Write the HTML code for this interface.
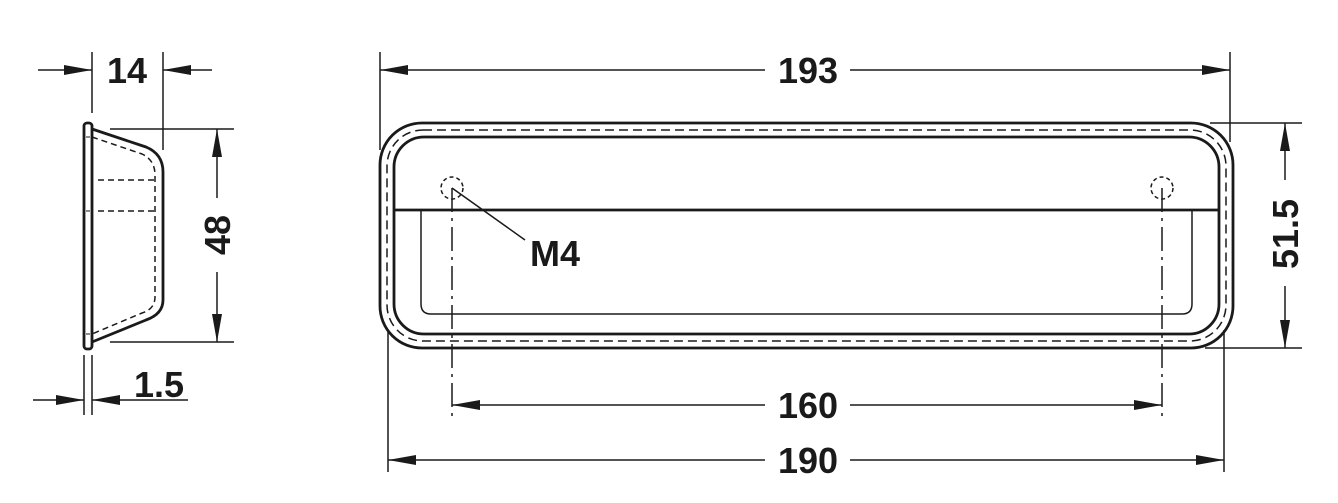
<!DOCTYPE html>
<html><head><style>
html,body{margin:0;padding:0;background:#fff;}
svg{display:block;}
text{font-family:"Liberation Sans",Arial,sans-serif;font-weight:bold;font-size:36px;fill:#1a1a1a;}
</style></head><body>
<svg width="1338" height="503" viewBox="0 0 1338 503" xmlns="http://www.w3.org/2000/svg">
<defs>
<marker id="a" viewBox="0 0 28 10" refX="28" refY="5" markerWidth="28" markerHeight="10" markerUnits="userSpaceOnUse" orient="auto"><path d="M0,0 L28,5 L0,10 Z" fill="#1a1a1a"/></marker>
</defs>
<g stroke="#1a1a1a" fill="none">
<rect x="84" y="123" width="8" height="226" rx="3" stroke-width="2.8"/>
<path d="M92,129 L146,147 Q163,154 163,172 L163,300 Q163,314 146,320 L92,342" stroke-width="2.8"/>
<path d="M92,137 L142,154 Q155,160 155,175 L155,297 Q155,309 142,313 L92,334" stroke-width="1.5" stroke-dasharray="6,4"/>
<line x1="98" y1="180" x2="155" y2="180" stroke-width="1.5" stroke-dasharray="6,4"/>
<line x1="98" y1="211" x2="155" y2="211" stroke-width="1.5" stroke-dasharray="6,4"/>
<line x1="86" y1="137" x2="90" y2="137" stroke-width="1"/>
<line x1="86" y1="211" x2="90" y2="211" stroke-width="1"/>
<line x1="86" y1="334" x2="90" y2="334" stroke-width="1"/>
<line x1="92" y1="52" x2="92" y2="113" stroke-width="1.5"/>
<line x1="163" y1="52" x2="163" y2="150" stroke-width="1.5"/>
<line x1="38" y1="70" x2="92" y2="70" stroke-width="1.5" marker-end="url(#a)"/>
<line x1="212" y1="70" x2="163" y2="70" stroke-width="1.5" marker-end="url(#a)"/>
<line x1="110" y1="129" x2="234" y2="129" stroke-width="1.5"/>
<line x1="110" y1="342" x2="234" y2="342" stroke-width="1.5"/>
<line x1="217" y1="198" x2="217" y2="129" stroke-width="1.5" marker-end="url(#a)"/>
<line x1="217" y1="272" x2="217" y2="342" stroke-width="1.5" marker-end="url(#a)"/>
<line x1="84" y1="355" x2="84" y2="415" stroke-width="1.5"/>
<line x1="92" y1="355" x2="92" y2="415" stroke-width="1.5"/>
<line x1="33" y1="400" x2="84" y2="400" stroke-width="1.5" marker-end="url(#a)"/>
<line x1="188" y1="400" x2="92" y2="400" stroke-width="1.5" marker-end="url(#a)"/>

<rect x="380" y="123" width="853" height="225" rx="42" stroke-width="2.8"/>
<rect x="387" y="130" width="839" height="211" rx="36" stroke-width="1.5" stroke-dasharray="9,5"/>
<rect x="394" y="137" width="825" height="197" rx="30" stroke-width="2.8"/>
<line x1="394" y1="210" x2="1219" y2="210" stroke-width="2.8"/>
<path d="M421,210 L421,304 Q421,314 431,314 L1182,314 Q1192,314 1192,304 L1192,210" stroke-width="1.5"/>
<circle cx="452" cy="188" r="11" stroke-width="1.5" stroke-dasharray="4,3"/>
<circle cx="1162" cy="188" r="11" stroke-width="1.5" stroke-dasharray="4,3"/>
<line x1="452" y1="188" x2="452" y2="420" stroke-width="1.5" stroke-dasharray="24,6,3,6"/>
<line x1="1162" y1="188" x2="1162" y2="420" stroke-width="1.5" stroke-dasharray="24,6,3,6"/>
<line x1="452" y1="188" x2="525" y2="240" stroke-width="1.5"/>
<line x1="380" y1="52" x2="380" y2="150" stroke-width="1.5"/>
<line x1="1230" y1="52" x2="1230" y2="142" stroke-width="1.5"/>
<line x1="765" y1="70" x2="380" y2="70" stroke-width="1.5" marker-end="url(#a)"/>
<line x1="850" y1="70" x2="1230" y2="70" stroke-width="1.5" marker-end="url(#a)"/>
<line x1="388" y1="330" x2="388" y2="472" stroke-width="1.5"/>
<line x1="1224" y1="330" x2="1224" y2="472" stroke-width="1.5"/>
<line x1="765" y1="460" x2="388" y2="460" stroke-width="1.5" marker-end="url(#a)"/>
<line x1="850" y1="460" x2="1224" y2="460" stroke-width="1.5" marker-end="url(#a)"/>
<line x1="765" y1="405" x2="452" y2="405" stroke-width="1.5" marker-end="url(#a)"/>
<line x1="850" y1="405" x2="1162" y2="405" stroke-width="1.5" marker-end="url(#a)"/>
<line x1="1210" y1="123" x2="1302" y2="123" stroke-width="1.5"/>
<line x1="1205" y1="348" x2="1302" y2="348" stroke-width="1.5"/>
<line x1="1285" y1="180" x2="1285" y2="123" stroke-width="1.5" marker-end="url(#a)"/>
<line x1="1285" y1="286" x2="1285" y2="348" stroke-width="1.5" marker-end="url(#a)"/>
</g>
<text x="127" y="83" text-anchor="middle">14</text>
<text x="159" y="397" text-anchor="middle">1.5</text>
<text transform="translate(230,235) rotate(-90)" text-anchor="middle">48</text>
<text transform="translate(1298,234) rotate(-90)" text-anchor="middle">51.5</text>
<text x="808" y="83" text-anchor="middle">193</text>
<text x="808" y="418" text-anchor="middle">160</text>
<text x="808" y="473" text-anchor="middle">190</text>
<text x="530" y="266">M4</text>
</svg>
</body></html>
